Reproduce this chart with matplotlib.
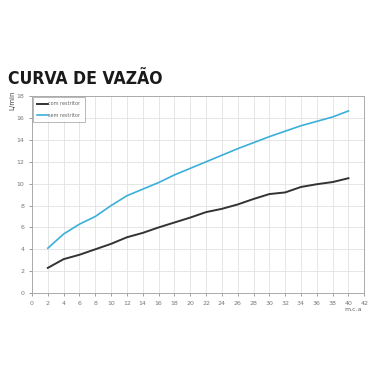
import matplotlib
matplotlib.use("Agg")
import matplotlib.pyplot as plt

# pressure (m.c.a) and flow (L/min)
pressao = [2, 4, 6, 8, 10, 12, 14, 16, 18, 20, 22, 24, 26, 28, 30, 32, 34, 36, 38, 40]
com_restritor = [2.3, 3.1, 3.5, 4.0, 4.5, 5.1, 5.5, 6.0, 6.45, 6.9, 7.4, 7.7, 8.1,
                 8.6, 9.05, 9.2, 9.7, 9.95, 10.15, 10.5]
sem_restritor = [4.1, 5.4, 6.3, 7.0, 8.0, 8.9, 9.5, 10.1, 10.8, 11.4, 12.0, 12.6, 13.2,
                 13.75, 14.3, 14.8, 15.3, 15.7, 16.1, 16.65]

x_ticks = list(range(0, 43, 2))
y_ticks = list(range(0, 19, 2))

fig = plt.figure(figsize=(3.7, 3.7), dpi=100)
ax = fig.add_axes([0.0865, 0.208, 0.898, 0.532])

ax.plot(pressao, com_restritor, color="#333333", linewidth=1.4, label="com restritor")
ax.plot(pressao, sem_restritor, color="#3aafd9", linewidth=1.2, label="sem restritor")

ax.set_xlim(0, 42)
ax.set_ylim(0, 18)
ax.set_xticks(x_ticks)
ax.set_yticks(y_ticks)
ax.tick_params(labelsize=4.5, colors="#777777", length=2, width=0.5)
ax.grid(color="#e2e2e2", linewidth=0.6)
ax.set_axisbelow(True)
for spine in ax.spines.values():
    spine.set_edgecolor("#aaaaaa")
    spine.set_linewidth(0.7)

leg = ax.legend(loc="upper left", fontsize=3.5, fancybox=False, edgecolor="#999999",
                labelcolor="#666666", handlelength=2.2, borderpad=0.9, labelspacing=1.4,
                handletextpad=0.1, borderaxespad=0.15)
leg.get_frame().set_linewidth(0.6)

fig.text(0.033, 0.73, "L/min", rotation=90, fontsize=5, color="#444444",
         ha="center", va="center")
fig.text(0.955, 0.163, "m.c.a", fontsize=4.5, color="#666666", ha="center", va="center")
fig.text(0.022, 0.786, "CURVA DE VAZÃO", fontsize=12.6, fontweight="bold",
         fontstretch="condensed", color="#1a1a1a", family="Liberation Sans Narrow",
         ha="left", va="center")

fig.savefig("out.png", dpi=100, facecolor="white")
